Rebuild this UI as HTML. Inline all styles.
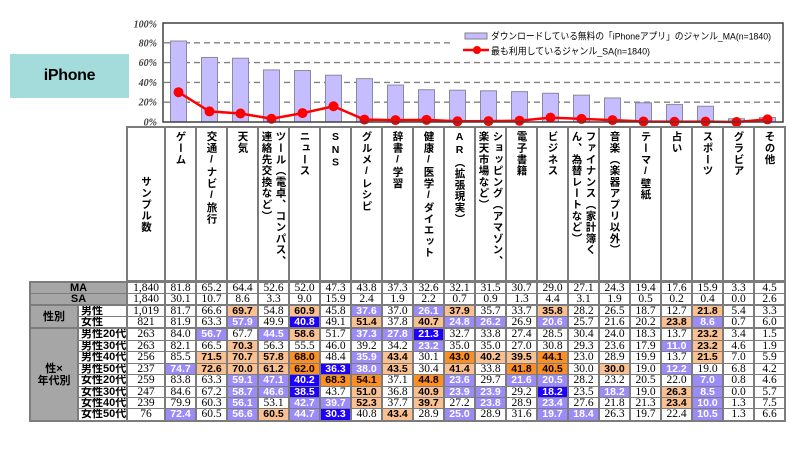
<!DOCTYPE html>
<html><head><meta charset="utf-8">
<style>
*{box-sizing:border-box;margin:0;padding:0}
body{width:800px;height:450px;overflow:hidden;background:#fff;position:relative;font-family:"Liberation Sans","Noto Sans CJK JP",sans-serif;color:#000}
#ip{position:absolute;left:10px;top:54px;width:119px;height:44px;background:#a4dcdc;font-weight:bold;font-size:16px;line-height:44px;text-align:center;letter-spacing:-0.3px}
.bg{position:absolute;background:#7c7c7c}
.h{position:absolute;top:128px;height:152px;width:29px;background:#fff;display:flex;justify-content:center;align-items:flex-start}
.h span{writing-mode:vertical-rl;text-orientation:upright;font-family:"Liberation Sans","Noto Sans CJK JP",sans-serif;font-size:10.5px;font-weight:bold;line-height:14px;letter-spacing:0.8px;margin-top:3px;white-space:nowrap}
.row{position:absolute;left:31px;display:flex;gap:2px}
.row span{display:block;height:100%;background:#fff;text-align:center;font-family:"Liberation Serif","Noto Serif CJK SC",serif;font-size:11.5px;white-space:nowrap;overflow:hidden}
.row span.d{width:29px}
.row span.s{width:36px}
.row span.L{width:95px;background:#a6a6a6;font-family:"Liberation Sans","Noto Sans CJK JP",sans-serif;font-weight:bold;font-size:11px}
.row span.e{width:46px;background:transparent}
.row span.sl{width:47px;text-align:left;padding-left:2px;font-family:"Liberation Sans","Noto Sans CJK JP",sans-serif;font-weight:bold;font-size:11px}
.row span.o,.row span.O,.row span.p,.row span.b{font-family:"Liberation Sans",sans-serif;font-weight:bold;font-size:10.5px}
.row span.o{background:#fac08f}
.row span.O{background:#fd8f22}
.row span.p{background:#9a8bf7;color:#fff}
.row span.b{background:#1e00ff;color:#fff}
.gl{position:absolute;left:31px;width:46px;background:#a6a6a6;font-weight:bold;font-size:11px;display:flex;align-items:center;justify-content:center;text-align:center;line-height:12px}
</style></head><body>

<div id="ip">iPhone</div>

<svg width="800" height="128" style="position:absolute;left:0;top:0" xmlns="http://www.w3.org/2000/svg">
<g stroke="#808080" stroke-width="1.4" stroke-dasharray="6,4">
<line x1="164" y1="42.8" x2="783" y2="42.8"/>
<line x1="164" y1="62.6" x2="783" y2="62.6"/>
<line x1="164" y1="82.4" x2="783" y2="82.4"/>
<line x1="164" y1="102.2" x2="783" y2="102.2"/>
</g>
<g fill="#c5bdff" stroke="#8a8a9a" stroke-width="1">
<rect x="170.5" y="41.02" width="16" height="80.98"/>
<rect x="201.5" y="57.45" width="16" height="64.55"/>
<rect x="232.5" y="58.24" width="16" height="63.76"/>
<rect x="263.5" y="69.93" width="16" height="52.07"/>
<rect x="294.5" y="70.52" width="16" height="51.48"/>
<rect x="325.5" y="75.17" width="16" height="46.83"/>
<rect x="356.5" y="78.64" width="16" height="43.36"/>
<rect x="387.5" y="85.07" width="16" height="36.93"/>
<rect x="418.5" y="89.73" width="16" height="32.27"/>
<rect x="449.5" y="90.22" width="16" height="31.78"/>
<rect x="480.5" y="90.81" width="16" height="31.19"/>
<rect x="511.5" y="91.61" width="16" height="30.39"/>
<rect x="542.5" y="93.29" width="16" height="28.71"/>
<rect x="573.5" y="95.17" width="16" height="26.83"/>
<rect x="604.5" y="97.94" width="16" height="24.06"/>
<rect x="635.5" y="102.79" width="16" height="19.21"/>
<rect x="666.5" y="104.58" width="16" height="17.42"/>
<rect x="697.5" y="106.26" width="16" height="15.74"/>
<rect x="728.5" y="118.73" width="16" height="3.27"/>
<rect x="759.5" y="117.54" width="16" height="4.46"/>
</g>
<polyline fill="none" stroke="#ff0000" stroke-width="2.5" points="178.5,92.2 209.5,111.41 240.5,113.49 271.5,118.73 302.5,113.09 333.5,106.26 364.5,119.62 395.5,120.12 426.5,119.82 457.5,121.31 488.5,121.11 519.5,120.71 550.5,117.64 581.5,118.93 612.5,120.12 643.5,121.51 674.5,121.8 705.5,121.6 736.5,122 767.5,119.43"/>
<g fill="#ff0000">
<circle cx="178.5" cy="92.2" r="5"/><circle cx="209.5" cy="111.41" r="5"/><circle cx="240.5" cy="113.49" r="5"/><circle cx="271.5" cy="118.73" r="5"/><circle cx="302.5" cy="113.09" r="5"/><circle cx="333.5" cy="106.26" r="5"/><circle cx="364.5" cy="119.62" r="5"/><circle cx="395.5" cy="120.12" r="5"/><circle cx="426.5" cy="119.82" r="5"/><circle cx="457.5" cy="121.31" r="5"/><circle cx="488.5" cy="121.11" r="5"/><circle cx="519.5" cy="120.71" r="5"/><circle cx="550.5" cy="117.64" r="5"/><circle cx="581.5" cy="118.93" r="5"/><circle cx="612.5" cy="120.12" r="5"/><circle cx="643.5" cy="121.51" r="5"/><circle cx="674.5" cy="121.8" r="5"/><circle cx="705.5" cy="121.6" r="5"/><circle cx="736.5" cy="122" r="5"/><circle cx="767.5" cy="119.43" r="5"/>
</g>
<rect x="450" y="28" width="330" height="30" fill="#fff"/>
<rect x="465" y="33" width="22" height="6" fill="#c5bdff" stroke="#808080" stroke-width="1"/>
<text x="491" y="39.5" font-size="9.5" font-family="Liberation Sans, Noto Sans CJK JP, sans-serif" textLength="280" lengthAdjust="spacingAndGlyphs">ダウンロードしている無料の「iPhoneアプリ」のジャンル_MA(n=1840)</text>
<line x1="463" y1="50" x2="489" y2="50" stroke="#ff0000" stroke-width="2.5"/>
<circle cx="477" cy="50" r="4" fill="#ff0000"/>
<text x="491" y="54.5" font-size="9.5" font-family="Liberation Sans, Noto Sans CJK JP, sans-serif" textLength="159" lengthAdjust="spacingAndGlyphs">最も利用しているジャンル_SA(n=1840)</text>
<g fill="none" stroke="#404040" stroke-width="1.5">
<line x1="163" y1="23" x2="783" y2="23"/>
<line x1="163" y1="22.3" x2="163" y2="122.7"/>
<line x1="783" y1="22.3" x2="783" y2="122.7"/>
<line x1="163" y1="122" x2="783" y2="122"/>
</g>
<g font-family="Liberation Serif, serif" font-style="italic" font-weight="bold" font-size="10" fill="#404040" text-anchor="end">
<text x="157" y="27.5">100%</text>
<text x="157" y="46.3">80%</text>
<text x="157" y="66.1">60%</text>
<text x="157" y="85.9">40%</text>
<text x="157" y="105.7">20%</text>
<text x="157" y="125.5">0%</text>
</g>
</svg>

<div class="bg" style="left:126px;top:126px;width:660px;height:158px"></div>
<div class="bg" style="left:29px;top:281px;width:757px;height:141px"></div>

<div class="h" style="left:128px;width:36px;align-items:center"><span style="margin-top:0">サンプル数</span></div>
<div class="h" style="left:166px"><span>ゲーム</span></div>
<div class="h" style="left:197px"><span>交通/ナビ/旅行</span></div>
<div class="h" style="left:228px"><span>天気</span></div>
<div class="h" style="left:259px"><span>ツール（電卓、コンパス、<br>連絡先交換など）</span></div>
<div class="h" style="left:290px"><span>ニュース</span></div>
<div class="h" style="left:321px"><span>SNS</span></div>
<div class="h" style="left:352px"><span>グルメ/レシピ</span></div>
<div class="h" style="left:383px"><span>辞書/学習</span></div>
<div class="h" style="left:414px"><span>健康/医学/ダイエット</span></div>
<div class="h" style="left:445px"><span>AR（拡張現実）</span></div>
<div class="h" style="left:476px"><span>ショッピング（アマゾン、<br>楽天市場など）</span></div>
<div class="h" style="left:507px"><span>電子書籍</span></div>
<div class="h" style="left:538px"><span>ビジネス</span></div>
<div class="h" style="left:569px"><span>ファイナンス（家計簿く<br>ん、為替レートなど）</span></div>
<div class="h" style="left:600px"><span>音楽（楽器アプリ以外）</span></div>
<div class="h" style="left:631px"><span>テーマ/壁紙</span></div>
<div class="h" style="left:662px"><span>占い</span></div>
<div class="h" style="left:693px"><span>スポーツ</span></div>
<div class="h" style="left:724px"><span>グラビア</span></div>
<div class="h" style="left:755px"><span>その他</span></div>

<div class="row" style="top:283px;height:10px;line-height:10px"><span class="L">MA</span><span class="s">1,840</span><span class="d">81.8</span><span class="d">65.2</span><span class="d">64.4</span><span class="d">52.6</span><span class="d">52.0</span><span class="d">47.3</span><span class="d">43.8</span><span class="d">37.3</span><span class="d">32.6</span><span class="d">32.1</span><span class="d">31.5</span><span class="d">30.7</span><span class="d">29.0</span><span class="d">27.1</span><span class="d">24.3</span><span class="d">19.4</span><span class="d">17.6</span><span class="d">15.9</span><span class="d">3.3</span><span class="d">4.5</span></div>
<div class="row" style="top:294px;height:10px;line-height:10px"><span class="L">SA</span><span class="s">1,840</span><span class="d">30.1</span><span class="d">10.7</span><span class="d">8.6</span><span class="d">3.3</span><span class="d">9.0</span><span class="d">15.9</span><span class="d">2.4</span><span class="d">1.9</span><span class="d">2.2</span><span class="d">0.7</span><span class="d">0.9</span><span class="d">1.3</span><span class="d">4.4</span><span class="d">3.1</span><span class="d">1.9</span><span class="d">0.5</span><span class="d">0.2</span><span class="d">0.4</span><span class="d">0.0</span><span class="d">2.6</span></div>

<div class="row" style="top:306px;height:10px;line-height:10px"><span class="e"></span><span class="sl">男性</span><span class="s">1,019</span><span class="d">81.7</span><span class="d">66.6</span><span class="d o">69.7</span><span class="d">54.8</span><span class="d o">60.9</span><span class="d">45.8</span><span class="d p">37.6</span><span class="d">37.0</span><span class="d p">26.1</span><span class="d o">37.9</span><span class="d">35.7</span><span class="d">33.7</span><span class="d o">35.8</span><span class="d">28.2</span><span class="d">26.5</span><span class="d">18.7</span><span class="d">12.7</span><span class="d o">21.8</span><span class="d">5.4</span><span class="d">3.3</span></div>
<div class="row" style="top:317px;height:10px;line-height:10px"><span class="e"></span><span class="sl">女性</span><span class="s">821</span><span class="d">81.9</span><span class="d">63.3</span><span class="d p">57.9</span><span class="d">49.9</span><span class="d b">40.8</span><span class="d">49.1</span><span class="d o">51.4</span><span class="d">37.8</span><span class="d o">40.7</span><span class="d p">24.8</span><span class="d p">26.2</span><span class="d">26.9</span><span class="d p">20.6</span><span class="d">25.7</span><span class="d">21.6</span><span class="d">20.2</span><span class="d o">23.8</span><span class="d p">8.6</span><span class="d">0.7</span><span class="d">6.0</span></div>
<div class="gl" style="top:306px;height:21px">性別</div>

<div class="row" style="top:329px;height:11px;line-height:11px"><span class="e"></span><span class="sl">男性20代</span><span class="s">263</span><span class="d">84.0</span><span class="d p">56.7</span><span class="d">67.7</span><span class="d p">44.5</span><span class="d o">58.6</span><span class="d">51.7</span><span class="d p">37.3</span><span class="d p">27.8</span><span class="d b">21.3</span><span class="d">32.7</span><span class="d">33.8</span><span class="d">27.4</span><span class="d">28.5</span><span class="d">30.4</span><span class="d">24.0</span><span class="d">18.3</span><span class="d">13.7</span><span class="d o">23.2</span><span class="d">3.4</span><span class="d">1.5</span></div>
<div class="row" style="top:341px;height:10px;line-height:10px"><span class="e"></span><span class="sl">男性30代</span><span class="s">263</span><span class="d">82.1</span><span class="d">66.5</span><span class="d o">70.3</span><span class="d">56.3</span><span class="d">55.5</span><span class="d">46.0</span><span class="d">39.2</span><span class="d">34.2</span><span class="d p">23.2</span><span class="d">35.0</span><span class="d">35.0</span><span class="d">27.0</span><span class="d">30.8</span><span class="d">29.3</span><span class="d">23.6</span><span class="d">17.9</span><span class="d p">11.0</span><span class="d o">23.2</span><span class="d">4.6</span><span class="d">1.9</span></div>
<div class="row" style="top:352px;height:11px;line-height:11px"><span class="e"></span><span class="sl">男性40代</span><span class="s">256</span><span class="d">85.5</span><span class="d o">71.5</span><span class="d o">70.7</span><span class="d o">57.8</span><span class="d O">68.0</span><span class="d">48.4</span><span class="d p">35.9</span><span class="d o">43.4</span><span class="d">30.1</span><span class="d O">43.0</span><span class="d o">40.2</span><span class="d o">39.5</span><span class="d O">44.1</span><span class="d">23.0</span><span class="d">28.9</span><span class="d">19.9</span><span class="d">13.7</span><span class="d o">21.5</span><span class="d">7.0</span><span class="d">5.9</span></div>
<div class="row" style="top:364px;height:10px;line-height:10px"><span class="e"></span><span class="sl">男性50代</span><span class="s">237</span><span class="d p">74.7</span><span class="d o">72.6</span><span class="d o">70.0</span><span class="d o">61.2</span><span class="d O">62.0</span><span class="d b">36.3</span><span class="d p">38.0</span><span class="d o">43.5</span><span class="d">30.4</span><span class="d o">41.4</span><span class="d">33.8</span><span class="d O">41.8</span><span class="d O">40.5</span><span class="d">30.0</span><span class="d o">30.0</span><span class="d">19.0</span><span class="d p">12.2</span><span class="d">19.0</span><span class="d">6.8</span><span class="d">4.2</span></div>
<div class="row" style="top:375px;height:11px;line-height:11px"><span class="e"></span><span class="sl">女性20代</span><span class="s">259</span><span class="d">83.8</span><span class="d">63.3</span><span class="d p">59.1</span><span class="d p">47.1</span><span class="d b">40.2</span><span class="d O">68.3</span><span class="d O">54.1</span><span class="d">37.1</span><span class="d O">44.8</span><span class="d p">23.6</span><span class="d">29.7</span><span class="d p">21.6</span><span class="d p">20.5</span><span class="d">28.2</span><span class="d">23.2</span><span class="d">20.5</span><span class="d">22.0</span><span class="d p">7.0</span><span class="d">0.8</span><span class="d">4.6</span></div>
<div class="row" style="top:387px;height:10px;line-height:10px"><span class="e"></span><span class="sl">女性30代</span><span class="s">247</span><span class="d">84.6</span><span class="d">67.2</span><span class="d p">58.7</span><span class="d p">46.6</span><span class="d b">38.5</span><span class="d">43.7</span><span class="d o">51.0</span><span class="d">36.8</span><span class="d o">40.9</span><span class="d p">23.9</span><span class="d p">23.9</span><span class="d">29.2</span><span class="d b">18.2</span><span class="d">23.5</span><span class="d p">18.2</span><span class="d">19.0</span><span class="d o">26.3</span><span class="d p">8.5</span><span class="d">0.0</span><span class="d">5.7</span></div>
<div class="row" style="top:398px;height:10px;line-height:10px"><span class="e"></span><span class="sl">女性40代</span><span class="s">239</span><span class="d">79.9</span><span class="d">60.3</span><span class="d p">56.1</span><span class="d">53.1</span><span class="d p">42.7</span><span class="d p">39.7</span><span class="d o">52.3</span><span class="d">37.7</span><span class="d o">39.7</span><span class="d">27.2</span><span class="d p">23.8</span><span class="d">28.9</span><span class="d p">23.4</span><span class="d">27.6</span><span class="d">21.8</span><span class="d">21.3</span><span class="d o">23.4</span><span class="d p">10.0</span><span class="d">1.3</span><span class="d">7.5</span></div>
<div class="row" style="top:409px;height:11px;line-height:11px"><span class="e"></span><span class="sl">女性50代</span><span class="s">76</span><span class="d p">72.4</span><span class="d">60.5</span><span class="d p">56.6</span><span class="d o">60.5</span><span class="d p">44.7</span><span class="d b">30.3</span><span class="d">40.8</span><span class="d o">43.4</span><span class="d">28.9</span><span class="d p">25.0</span><span class="d">28.9</span><span class="d">31.6</span><span class="d p">19.7</span><span class="d p">18.4</span><span class="d">26.3</span><span class="d">19.7</span><span class="d">22.4</span><span class="d p">10.5</span><span class="d">1.3</span><span class="d">6.6</span></div>
<div class="gl" style="top:329px;height:91px">性×<br>年代別</div>

</body></html>
